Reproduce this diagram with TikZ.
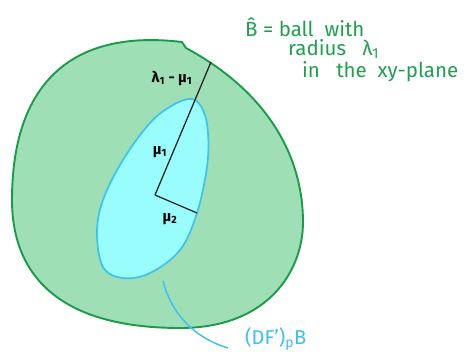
\documentclass[tikz,border=0pt]{standalone}
\usepackage{fontspec}
\setmainfont{Fira Sans}
\definecolor{gfill}{HTML}{9EDFB6}
\definecolor{gline}{HTML}{1B9A4A}
\definecolor{cfill}{HTML}{9AFDFD}
\definecolor{cline}{HTML}{3EC3EE}
\definecolor{gtext}{HTML}{1FA050}
\definecolor{ctext}{HTML}{3CC0EF}
\tikzset{
  outerball/.style={fill=gfill,draw=gline,line width=1.9pt},
  innerell/.style={fill=cfill,draw=cline,line width=1.7pt},
  radline/.style={draw=black!85,line width=1.3pt},
  lbl/.style={font=\fontsize{15}{17}\selectfont\bfseries,text=black,inner sep=0pt},
  gnote/.style={font=\fontsize{20.5}{22}\selectfont,text=gtext,inner sep=0pt,anchor=west},
  cnote/.style={font=\fontsize{20}{22}\selectfont,text=ctext,inner sep=0pt,anchor=west},
  conn/.style={draw=cline,line width=1.5pt}
}
\begin{document}
\begin{tikzpicture}[x=1pt,y=-1pt]
\useasboundingbox (0,0) rectangle (466,361);
% outer ball
\path[outerball] (186,48) .. controls (273,95) and (303,162) .. (303,222)
  .. controls (303,270) and (269,328) .. (180,328)
  .. controls (52,328) and (12,269) .. (12,200)
  .. controls (12,85) and (70,28.6) .. (182,42) -- cycle;
% inner ellipse
\path[innerell] plot[smooth cycle,tension=0.6] coordinates {(192,99) (203,110) (208,133) (207,167) (197,213) (180,250) (150,273) (123,278) (103,267) (97,233) (103,200) (123,160) (150,123) (173,105)};
\coordinate (c) at (155,195);
\coordinate (top) at (211,62);
\coordinate (m2) at (197,213);
\draw[radline] (c) -- (top);
\draw[radline] (c) -- (m2);
\node[lbl] (l1) at (172,78) {λ\textsubscript{1} - μ\textsubscript{1}};
\node[lbl] (l2) at (160,152) {μ\textsubscript{1}};
\node[lbl] (l3) at (170,219) {μ\textsubscript{2}};
\node[gnote] (t1) at (245,27) {B̂ = ball\ \ with};
\node[gnote] (t2) at (288,49) {radius\ \ \ λ\textsubscript{1}};
\node[gnote] (t3) at (302,72) {in\ \ \ the\ \ xy-plane};
\node[cnote] (t4) at (245,339) {(DF')\textsubscript{p}B};
\coordinate (cs) at (163,281);
\coordinate (ce) at (228,348);
\draw[conn] (cs) .. controls (172,315) and (195,338) .. (ce);
\end{tikzpicture}
\end{document}
